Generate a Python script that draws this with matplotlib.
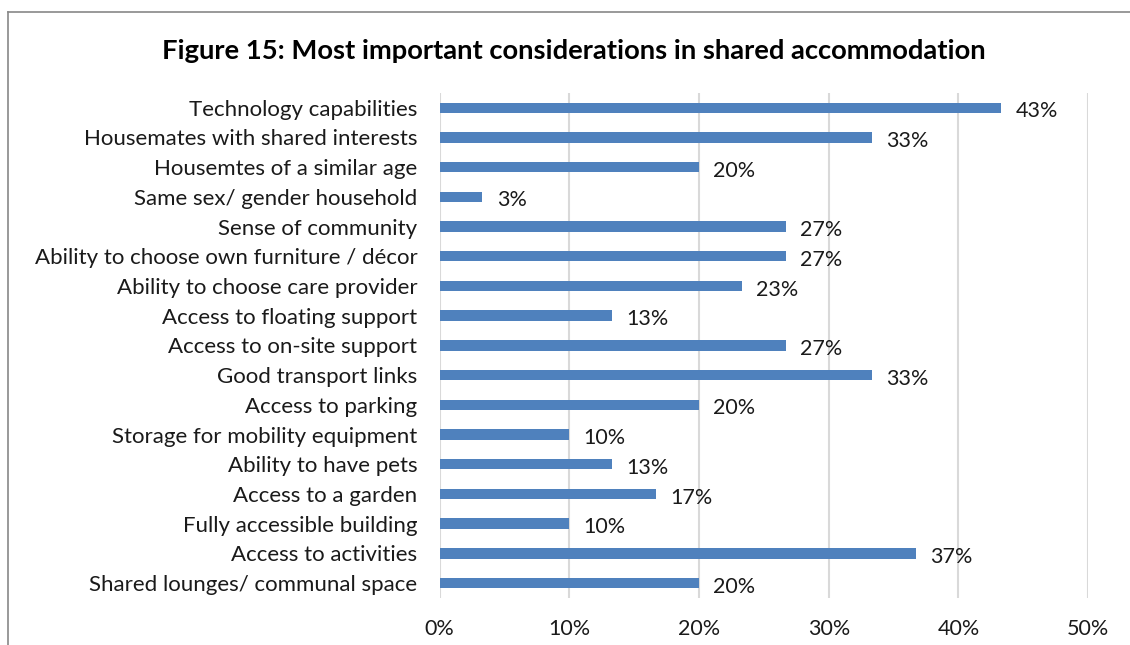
import matplotlib.pyplot as plt
from matplotlib.lines import Line2D

categories = ['Technology capabilities', 'Housemates with shared interests',
              'Housemtes of a similar age', 'Same sex/ gender household',
              'Sense of community', 'Ability to choose own furniture / décor',
              'Ability to choose care provider', 'Access to floating support',
              'Access to on-site support', 'Good transport links',
              'Access to parking', 'Storage for mobility equipment',
              'Ability to have pets', 'Access to a garden',
              'Fully accessible building', 'Access to activities',
              'Shared lounges/ communal space']
values = [43.3, 33.3, 20.0, 3.3, 26.7, 26.7, 23.3, 13.3, 26.7, 33.3,
          20.0, 10.0, 13.3, 16.7, 10.0, 36.7, 20.0]
xticks = [0, 10, 20, 30, 40, 50]

plt.rcParams['font.family'] = ['Lato', 'DejaVu Sans']

fig = plt.figure(figsize=(11.3, 6.45), dpi=100)
ax = fig.add_axes([0.389, 0.073, 0.574, 0.783])

pos = list(range(len(categories)))
ax.barh(pos, values, height=0.35, color='#4f81bd', zorder=3)
for p, v in zip(pos, values):
    ax.text(v + 1.1, p + 0.12, '%d%%' % round(v), va='center', ha='left',
            fontsize=15.5, color='#1a1a1a')

ax.set_ylim(len(categories) - 0.5, -0.5)
ax.set_xlim(0, 50)
ax.set_yticks(pos)
ax.set_yticklabels(categories, fontsize=16, color='#1a1a1a')
ax.set_xticks(xticks)
ax.set_xticklabels(['%d%%' % t for t in xticks], fontsize=15.5, color='#1a1a1a')
ax.tick_params(length=0)
ax.tick_params(axis='y', pad=16)
ax.tick_params(axis='x', pad=15)
ax.grid(axis='x', color='#d9d9d9', linewidth=1.5, zorder=0)
for s in ax.spines.values():
    s.set_visible(False)

fig.text(0.508, 0.921, 'Figure 15: Most important considerations in shared accommodation',
         ha='center', va='center', fontsize=19.7, fontweight='bold')

# chart border (cut off at right and bottom)
fig.add_artist(Line2D([8 / 1130, 1], [1 - 12 / 645, 1 - 12 / 645],
                      transform=fig.transFigure, color='#888888', linewidth=1.2))
fig.add_artist(Line2D([8 / 1130, 8 / 1130], [0, 1 - 12 / 645],
                      transform=fig.transFigure, color='#888888', linewidth=1.2))

fig.savefig('out.png', dpi=100)
